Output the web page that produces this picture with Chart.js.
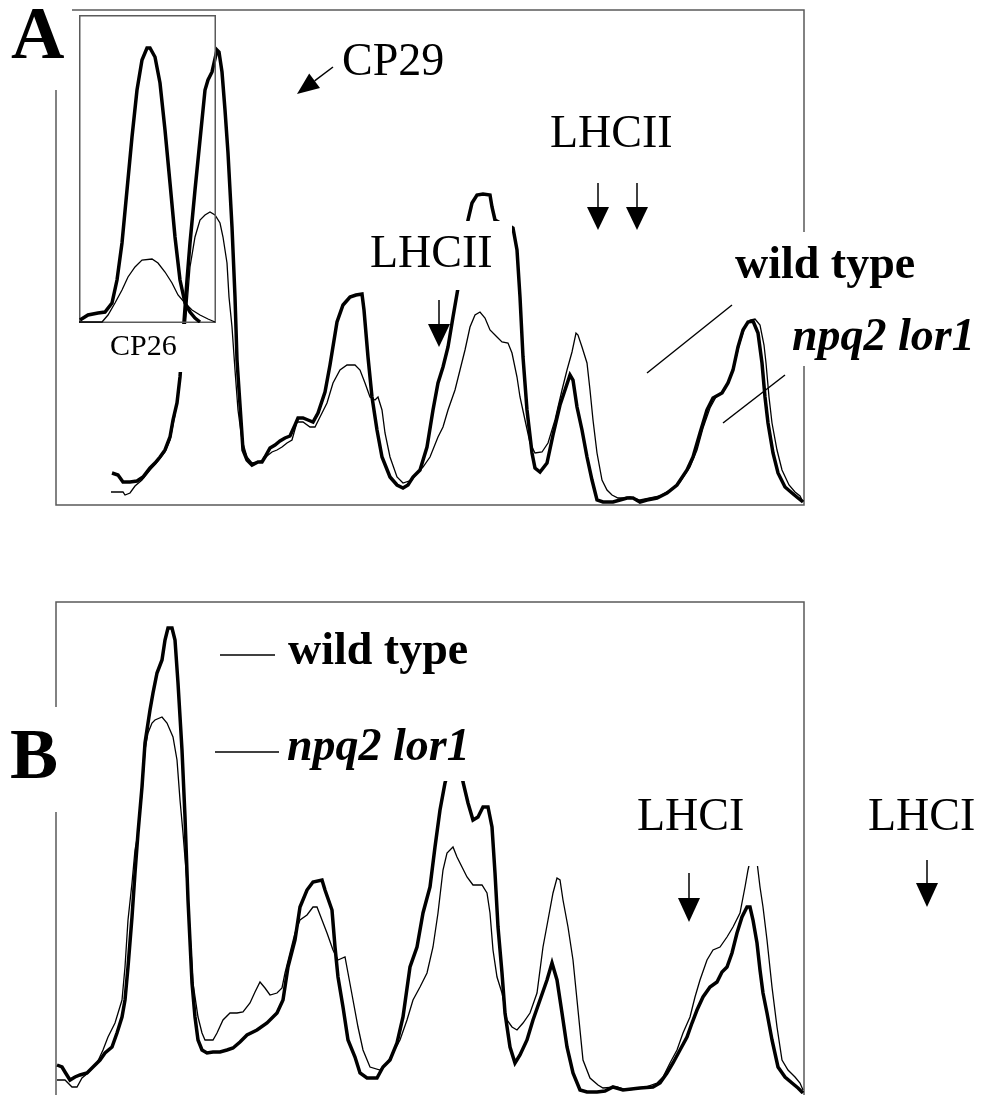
<!DOCTYPE html>
<html>
<head>
<meta charset="utf-8">
<script src="https://cdn.jsdelivr.net/npm/chart.js@4.4.0/dist/chart.umd.min.js"></script>
<style>
  html, body { margin: 0; padding: 0; background: #fff; }
  #wrap { position: relative; width: 982px; height: 1095px; overflow: hidden; }
  canvas { position: absolute; }
  #chartA { left: 0; top: 0; }
  #chartInset { left: 79px; top: 15px; }
  #chartB { left: 0; top: 540px; }
</style>
</head>
<body>
<div id="wrap">
  <canvas id="chartA" width="982" height="540"></canvas>
  <canvas id="chartInset" width="137" height="308"></canvas>
  <canvas id="chartB" width="982" height="555"></canvas>
</div>
<script>
// densitometry traces, x = migration (arbitrary units), y = absorbance (arbitrary units)
const seriesNames = ["wild type", "npq2 lor1"];

// panel A, wild type
const wtAx = [5.6,6.2,6.7,7.4,8.1,8.7,9.4,9.9,10.4,10.9,11.4,11.7,12.1,12.4,12.8,13.1,13.4,13.9,14.4,14.9,15.2,15.6,16.1,16.3,16.6,16.9,17.2,17.6,17.9,18.1,18.5,18.7,19.1,19.6,20.2,20.6,20.9,21.4,21.9,22.4,22.9,23.4,23.9,24.2,24.7,25.2,25.7,26.2,26.9,27.4,28.1,28.7,29.4,30.0,30.6,30.8,31.2,31.6,32.1,32.6,33.4,34.1,34.7,35.2,35.7,36.4,37.1,37.7,38.2,38.7,39.2,39.7,40.2,40.7,41.2,41.6,42.1,42.7,43.4,43.6,43.9,44.6,45.2,45.7,46.1,46.4,46.7,47.1,47.6,47.9,48.4,49.1,49.7,50.4,50.9,51.4,51.7,52.1,52.6,53.1,53.6,54.1,54.7,55.7,56.4,57.1,57.7,58.4,59.1,60.1,61.1,62.1,63.1,63.7,64.4,65.1,65.7,66.6,67.2,67.7,68.2,68.7,69.2,69.7,70.2,70.6,70.9,71.2,71.7,72.2,72.9,73.6,74.2,74.7];
const wtAy = [6.4,6.0,4.6,4.6,4.8,5.6,7.4,8.4,9.6,11.0,13.6,17.0,20.4,25.6,36.6,45.0,52.4,63.0,73.0,83.0,85.0,86.6,91.0,90.6,86.6,79.0,70.4,55.6,41.6,29.0,17.0,11.0,9.0,8.0,8.6,8.6,9.6,11.4,12.0,12.8,13.4,13.8,16.0,17.4,17.4,17.0,16.6,18.4,22.6,28.0,36.6,40.0,41.6,42.0,42.2,39.0,29.6,21.6,15.0,9.6,5.6,4.0,3.4,4.0,5.6,7.0,11.6,19.0,24.4,27.6,31.6,37.6,43.4,50.6,57.0,60.4,62.0,62.2,62.0,59.6,57.0,56.2,56.0,55.4,51.0,41.6,29.6,19.0,10.4,7.4,6.6,8.4,14.0,20.0,23.0,26.0,25.0,19.6,15.0,9.6,5.0,1.0,0.6,0.6,1.0,1.4,1.4,0.6,1.0,1.4,2.4,4.0,7.0,9.6,14.4,19.0,21.4,22.4,24.4,27.0,31.6,35.0,36.6,36.8,34.4,28.4,21.6,16.4,10.4,6.4,3.6,2.4,1.4,0.6];

// panel A, npq2 lor1
const mutAx = [5.5,6.2,6.7,6.9,7.4,7.9,8.6,9.4,10.2,10.9,11.4,11.9,12.4,12.9,13.4,13.9,14.4,14.9,15.4,15.9,16.4,16.7,17.1,17.3,17.6,17.9,18.2,18.6,19.1,19.6,20.2,20.7,21.1,21.6,22.1,22.6,23.1,23.6,24.1,24.7,25.4,25.9,26.4,27.1,27.7,28.4,29.1,29.9,30.4,30.9,31.4,31.9,32.2,32.6,32.9,33.4,34.1,34.7,35.6,36.1,36.7,37.4,38.2,38.7,39.2,39.9,40.4,40.9,41.4,41.9,42.4,42.9,43.4,44.1,44.6,45.2,45.6,46.1,46.4,46.9,47.4,47.9,48.6,49.2,49.9,50.6,51.1,51.6,52.0,52.2,52.6,53.1,53.4,53.7,54.1,54.6,55.1,55.6,56.2,56.7,57.4,58.4,59.4,60.4,61.4,62.4,63.4,64.1,64.7,65.4,66.0,66.8,67.4,67.9,68.4,68.9,69.4,69.9,70.4,70.8,71.0,71.3,71.6,72.1,72.6,73.3,73.9,74.4,74.7];
const mutAy = [2.6,2.6,2.6,2.0,2.4,3.8,5.0,7.0,8.8,10.6,13.0,18.0,25.0,35.0,47.6,53.6,57.0,58.0,58.6,58.0,56.4,53.6,48.4,41.6,35.6,27.0,19.0,13.0,9.6,8.4,8.6,9.0,9.8,10.6,11.0,11.6,12.4,13.0,16.6,16.6,15.6,15.6,17.6,20.4,24.4,27.0,28.0,28.0,27.0,24.4,21.6,21.0,21.6,19.0,14.4,9.6,5.6,4.4,5.0,6.4,7.6,9.6,13.6,15.6,19.0,23.0,27.0,31.0,35.6,38.0,38.6,37.4,35.0,33.6,32.6,32.4,30.4,25.6,21.6,17.0,12.4,10.4,10.6,12.4,17.0,23.0,27.0,30.6,34.4,34.0,31.6,28.4,23.0,17.0,10.4,5.0,3.0,2.0,1.4,1.4,1.6,1.0,1.4,1.8,3.0,4.6,7.6,11.0,15.4,19.4,21.6,23.0,25.4,28.6,32.6,35.6,37.0,37.2,36.0,32.0,28.4,21.6,16.4,11.0,7.0,4.0,2.6,1.8,0.6];

// panel A inset (CP26 region)
const cp26WtX = [0.2,1.8,3.8,5.2,6.6,7.6,8.6,9.6,10.6,11.6,12.6,13.6,14.2,15.2,16.2,17.2,18.2,19.2,20.2,21.2,22.2,23.2,24.2];
const cp26WtY = [0.6,1.6,2.0,2.2,4.0,8.6,16.0,26.6,37.2,46.6,52.6,55.0,55.0,53.2,48.0,38.6,28.0,17.2,8.6,4.0,2.2,1.0,0.2];
const cp26MutX = [0,4.6,5.8,7.2,8.6,9.8,11.2,12.6,14.6,15.8,17.2,18.6,19.8,21.2,22.6,24.2,25.8,27.2];
const cp26MutY = [0.2,0.2,1.6,4.0,6.6,9.2,11.2,12.6,12.8,12.0,10.2,8.0,5.6,4.0,2.6,1.6,0.8,0.2];

// panel B, wild type
const wtBx = [0.1,0.6,0.9,1.4,1.9,2.4,3.1,3.7,4.4,4.9,5.6,6.1,6.6,6.9,7.2,7.6,7.9,8.2,8.6,8.9,9.4,9.7,10.1,10.6,10.9,11.2,11.6,11.9,12.2,12.6,12.9,13.2,13.6,13.9,14.2,14.6,15.1,15.7,16.4,17.1,17.7,18.4,19.1,20.1,21.1,22.1,22.7,23.2,23.9,24.4,25.1,25.7,26.6,26.9,27.6,27.9,28.2,28.7,29.2,29.9,30.4,31.1,32.1,32.7,33.4,34.1,34.7,35.4,36.1,36.7,37.4,37.9,38.4,38.9,39.4,39.9,40.4,40.7,41.2,41.7,42.2,42.7,43.2,43.6,43.9,44.2,44.6,44.9,45.4,45.9,46.4,47.1,47.7,48.4,49.1,49.6,50.1,50.6,51.1,51.7,52.4,53.1,54.1,54.9,55.7,56.7,58.4,59.7,60.4,61.1,61.7,62.4,63.1,63.6,64.1,64.7,65.4,66.1,66.6,67.1,67.6,68.1,68.6,69.1,69.4,69.7,70.1,70.4,70.7,71.1,71.6,72.2,72.9,73.6,74.2,74.7];
const wtBy = [5.8,5.4,4.4,2.8,3.4,3.8,4.2,5.4,6.8,8.2,9.4,12.2,15.4,18.8,25.4,35.4,44.2,52.2,61.4,70.2,76.8,80.2,84.2,86.8,90.8,93.2,93.2,90.8,82.2,68.8,55.4,38.8,22.2,15.4,10.8,8.8,8.2,8.4,8.4,8.8,9.2,10.4,11.8,12.8,14.2,16.2,18.8,25.4,30.8,37.4,40.8,42.4,42.8,40.8,36.8,29.4,23.4,17.4,10.8,7.4,4.2,3.2,3.2,5.4,6.8,10.2,15.4,25.4,29.4,36.2,41.4,49.4,56.8,62.2,65.8,66.8,65.6,62.4,58.2,54.8,55.4,57.4,57.4,53.4,44.2,33.4,24.2,16.2,9.4,6.2,7.8,10.8,14.8,18.8,22.8,26.2,22.8,16.2,9.4,4.2,0.8,0.4,0.4,0.6,1.4,0.8,1.2,1.4,2.2,4.2,6.2,8.8,11.4,14.2,16.8,19.4,21.4,22.4,24.4,25.4,28.2,32.2,35.4,37.4,37.4,34.8,30.2,24.8,20.2,16.2,10.8,5.4,3.4,2.2,1.2,0.2];

// panel B, npq2 lor1
const mutBx = [0.1,0.9,1.6,2.1,2.6,3.2,4.1,4.7,5.2,5.9,6.6,6.9,7.2,7.6,7.9,8.2,8.6,8.9,9.2,9.6,9.9,10.6,11.1,11.7,12.1,12.4,12.7,13.1,13.4,13.7,14.2,14.6,14.9,15.7,16.1,16.7,17.4,18.1,18.7,19.4,19.9,20.4,20.9,21.4,22.1,22.6,22.9,23.4,23.9,24.4,25.1,25.7,26.1,26.6,27.1,27.7,28.2,28.9,29.2,29.7,30.2,30.7,31.4,32.4,33.1,33.7,34.4,35.1,35.7,36.4,37.1,37.7,38.2,38.7,39.1,39.7,40.1,40.6,41.1,41.7,42.6,43.1,43.4,43.7,44.1,44.6,45.1,45.6,46.1,46.7,47.4,48.1,48.7,49.2,49.7,50.1,50.4,50.7,51.2,51.7,52.2,52.7,53.4,54.2,54.7,56.1,57.1,58.7,60.1,60.7,61.4,62.1,62.7,63.4,63.9,64.4,65.1,65.7,66.4,67.1,67.7,68.4,68.9,69.2,69.6,70.1,70.4,70.7,71.1,71.6,72.1,72.6,73.2,73.9,74.4,74.7];
const mutBy = [2.8,2.8,1.4,1.4,3.2,4.2,6.2,8.8,11.4,14.2,18.8,25.4,34.8,42.2,48.8,52.2,60.2,68.8,72.2,74.2,74.8,75.4,74.2,71.4,66.8,58.8,52.2,42.2,32.2,22.2,15.4,12.2,10.8,10.8,12.2,14.8,16.2,16.2,16.4,18.2,20.4,22.4,21.2,19.8,20.2,21.2,24.2,28.2,32.2,34.8,35.8,37.4,37.4,34.8,32.2,28.8,26.8,27.4,24.2,18.8,13.4,8.8,5.4,4.8,6.2,8.2,10.8,14.8,18.8,21.4,24.2,29.4,36.2,44.8,48.2,49.4,47.4,45.4,43.4,41.8,41.8,40.2,36.2,28.8,23.4,20.2,14.8,13.4,12.8,14.2,16.2,20.2,29.4,34.8,40.2,43.2,42.8,38.8,33.4,26.8,16.8,6.8,3.2,1.8,1.2,1.4,0.8,1.2,2.2,3.4,6.2,8.8,12.2,15.4,19.4,22.8,26.8,28.8,29.4,31.4,33.4,36.2,41.4,44.8,48.4,46.4,41.4,37.4,30.8,21.4,13.4,6.8,4.8,3.4,2.2,0.8];

const toPoints = (xs, ys) => xs.map((x, i) => ({ x: x, y: ys[i] }));

const SERIF = '"Liberation Serif", "Times New Roman", serif';

function trace(label, xs, ys, width) {
  return {
    label: label,
    data: toPoints(xs, ys),
    borderColor: "#000",
    borderWidth: width,
    pointRadius: 0,
    tension: 0,
    fill: false,
  };
}

function drawArrow(ctx, x1, y1, x2, y2, len, half) {
  const ang = Math.atan2(y2 - y1, x2 - x1);
  const bx = x2 - len * Math.cos(ang);
  const by = y2 - len * Math.sin(ang);
  ctx.beginPath();
  ctx.moveTo(x1, y1);
  ctx.lineTo(bx, by);
  ctx.stroke();
  ctx.beginPath();
  ctx.moveTo(x2, y2);
  ctx.lineTo(bx + half * Math.sin(ang), by - half * Math.cos(ang));
  ctx.lineTo(bx - half * Math.sin(ang), by + half * Math.cos(ang));
  ctx.closePath();
  ctx.fill();
}

// frame round the plot area, then white label boxes, leader lines, arrows and texts
const figurePlugin = {
  id: "figure",
  beforeDatasetsDraw(chart, args, opts) {
    const ctx = chart.ctx;
    const a = chart.chartArea;
    const inset = opts.frameInset || 0;
    ctx.save();
    ctx.strokeStyle = "#5a5a5a";
    ctx.lineWidth = 1.5;
    ctx.beginPath();
    if (opts.openBottom) {
      ctx.moveTo(a.left, chart.height);
      ctx.lineTo(a.left, a.top);
      ctx.lineTo(a.right, a.top);
      ctx.lineTo(a.right, chart.height);
    } else {
      ctx.rect(a.left + inset, a.top + inset, a.right - a.left - 2 * inset, a.bottom - a.top - 2 * inset);
    }
    ctx.stroke();
    ctx.restore();
  },
  afterDraw(chart, args, opts) {
    const ctx = chart.ctx;
    ctx.save();
    ctx.fillStyle = "#fff";
    (opts.boxes || []).forEach((b) => ctx.fillRect(b[0], b[1], b[2] - b[0], b[3] - b[1]));

    ctx.strokeStyle = "#000";
    ctx.fillStyle = "#000";
    ctx.lineWidth = 1.5;
    (opts.lines || []).forEach((l) => {
      ctx.beginPath();
      ctx.moveTo(l[0], l[1]);
      ctx.lineTo(l[2], l[3]);
      ctx.stroke();
    });
    (opts.arrows || []).forEach((ar) => drawArrow(ctx, ar[0], ar[1], ar[2], ar[3], ar[4], ar[5]));

    ctx.textBaseline = "alphabetic";
    (opts.texts || []).forEach((t) => {
      ctx.font = t.font;
      ctx.fillText(t.text, t.x, t.y);
    });
    ctx.restore();
  },
};
Chart.register(figurePlugin);

function baseOptions(xMax, yMax, padding, fig) {
  return {
    responsive: false,
    animation: false,
    events: [],
    layout: { padding: padding },
    scales: {
      x: { type: "linear", min: 0, max: xMax, display: false },
      y: { type: "linear", min: 0, max: yMax, display: false },
    },
    plugins: {
      legend: { display: false },
      tooltip: { enabled: false },
      figure: fig,
    },
  };
}

const bigFont = "46px " + SERIF;

new Chart(document.getElementById("chartA"), {
  type: "line",
  data: {
    datasets: [
      trace(seriesNames[0], wtAx, wtAy, 3.5),
      trace(seriesNames[1], mutAx, mutAy, 1.3),
    ],
  },
  options: baseOptions(74.8, 99, { left: 56, right: 178, top: 10, bottom: 35 }, {
    boxes: [
      [0, 0, 72, 90],
      [98, 324, 200, 372],
      [365, 221, 512, 290],
      [727, 232, 930, 293],
      [786, 293, 982, 366],
    ],
    lines: [
      [732, 305, 647, 373],
      [785, 375, 723, 423],
    ],
    arrows: [
      [333, 67, 297, 94, 22, 9],
      [598, 183, 598, 230, 23, 11],
      [637, 183, 637, 230, 23, 11],
      [439, 300, 439, 347, 23, 11],
    ],
    texts: [
      { text: "A", x: 11, y: 58, font: "bold 74px " + SERIF },
      { text: "CP29", x: 342, y: 75, font: bigFont },
      { text: "LHCII", x: 550, y: 147, font: bigFont },
      { text: "LHCII", x: 370, y: 267, font: bigFont },
      { text: "CP26", x: 110, y: 355, font: "30px " + SERIF },
      { text: seriesNames[0], x: 735, y: 278, font: "bold " + bigFont },
      { text: seriesNames[1], x: 792, y: 350, font: "italic bold " + bigFont },
    ],
  }),
});

new Chart(document.getElementById("chartInset"), {
  type: "line",
  data: {
    datasets: [
      trace(seriesNames[0], cp26WtX, cp26WtY, 3.5),
      trace(seriesNames[1], cp26MutX, cp26MutY, 1.3),
    ],
  },
  options: baseOptions(27.4, 61.6, 0, { frameInset: 0.75 }),
});

new Chart(document.getElementById("chartB"), {
  type: "line",
  data: {
    datasets: [
      trace(seriesNames[0], wtBx, wtBy, 3.5),
      trace(seriesNames[1], mutBx, mutBy, 1.3),
    ],
  },
  options: baseOptions(74.8, 98.4, { left: 56, right: 178, top: 62, bottom: 1 }, {
    openBottom: true,
    boxes: [
      [0, 167, 62, 272],
      [280, 178, 478, 241],
      [628, 245, 762, 326],
    ],
    lines: [
      [220, 115, 275, 115],
      [215, 212, 279, 212],
    ],
    arrows: [
      [689, 333, 689, 382, 24, 11],
      [927, 320, 927, 367, 24, 11],
    ],
    texts: [
      { text: "B", x: 10, y: 238, font: "bold 72px " + SERIF },
      { text: seriesNames[0], x: 288, y: 124, font: "bold " + bigFont },
      { text: seriesNames[1], x: 287, y: 220, font: "italic bold " + bigFont },
      { text: "LHCI", x: 637, y: 290, font: bigFont },
      { text: "LHCI", x: 868, y: 290, font: bigFont },
    ],
  }),
});
</script>
</body>
</html>
